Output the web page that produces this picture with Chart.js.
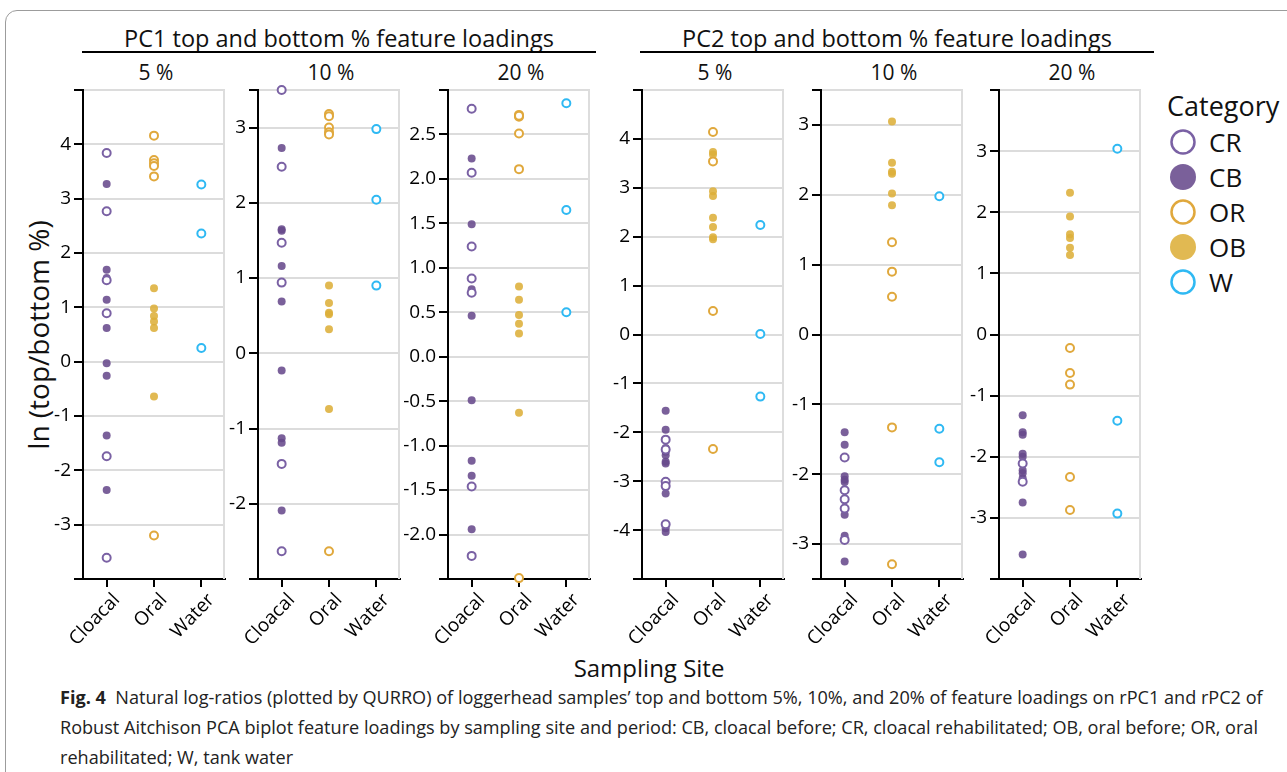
<!DOCTYPE html>
<html>
<head>
<meta charset="utf-8">
<script src="https://cdn.jsdelivr.net/npm/chart.js@4.4.1/dist/chart.umd.min.js"></script>
<style>
  body { margin: 0; width: 1287px; height: 772px; overflow: hidden; background: #fff; font-family: "Open Sans", sans-serif; color: #111; }
  canvas { position: absolute; }
  .frame { position: absolute; left: 5px; top: 10px; width: 1320px; height: 800px; border: 1px solid #9c9c9c; border-top-left-radius: 12px; }
  .head { position: absolute; top: 22px; font-size: 23.5px; font-weight: 500; text-align: center; white-space: nowrap; }
  .rule { position: absolute; top: 51px; height: 2px; background: #000; }
  .sub { position: absolute; top: 58px; font-size: 21px; font-weight: 500; width: 100px; text-align: center; }
  .ytitle { position: absolute; left: 38px; top: 335px; font-size: 28px; white-space: nowrap; transform: translate(-50%, -50%) rotate(-90deg); }
  .xtitle { position: absolute; left: 649px; top: 667px; font-size: 24px; transform: translate(-50%, -50%); white-space: nowrap; }
  .legend { position: absolute; left: 1167px; top: 88px; }
  .legend .t { font-size: 27px; line-height: 36px; }
  .legend .row { display: flex; align-items: center; height: 35px; font-size: 26px; }
  .legend svg { margin-right: 12px; margin-left: 2px; }
  .caption { position: absolute; left: 60px; top: 682px; font-size: 18.1px; line-height: 30px; white-space: nowrap; color: #222; }
</style>
</head>
<body>
<div class="frame"></div>

<div class="head" style="left:82px;width:514px;">PC1 top and bottom % feature loadings</div>
<div class="rule" style="left:82px;width:514px;"></div>
<div class="head" style="left:640px;width:514px;">PC2 top and bottom % feature loadings</div>
<div class="rule" style="left:640px;width:514px;"></div>

<div id="subs"></div>
<div class="ytitle">ln (top/bottom %)</div>
<div class="xtitle">Sampling Site</div>
<div class="legend" id="legend"><div class="t">Category</div></div>

<canvas id="c1"></canvas>
<canvas id="c2"></canvas>
<canvas id="c3"></canvas>
<canvas id="c4"></canvas>
<canvas id="c5"></canvas>
<canvas id="c6"></canvas>

<div class="caption"><b>Fig. 4</b>&nbsp; Natural log-ratios (plotted by QURRO) of loggerhead samples’ top and bottom 5%, 10%, and 20% of feature loadings on rPC1 and rPC2 of<br>Robust Aitchison PCA biplot feature loadings by sampling site and period: CB, cloacal before; CR, cloacal rehabilitated; OB, oral before; OR, oral<br>rehabilitated; W, tank water</div>

<script>
// categories
const sites = ['Cloacal', 'Oral', 'Water'];
const groups = ['CR', 'CB', 'OR', 'OB', 'W'];
const panelTitles = ['5 %', '10 %', '20 %', '5 %', '10 %', '20 %'];

// PC1 5%
const pc1_5_CR = [3.84, 2.77, 1.50, 0.89, -1.74, -3.61];
const pc1_5_CB = [3.27, 1.69, 1.54, 1.14, 0.62, -0.03, -0.26, -1.36, -2.36];
const pc1_5_OR = [4.16, 3.71, 3.65, 3.60, 3.41, -3.20];
const pc1_5_OB = [1.35, 0.98, 0.84, 0.74, 0.62, -0.64];
const pc1_5_W = [3.26, 2.36, 0.25];

// PC1 10%
const pc1_10_CR = [3.50, 2.48, 1.47, 0.94, -1.47, -2.63];
const pc1_10_CB = [2.73, 1.65, 1.63, 1.16, 0.69, -0.23, -1.13, -1.19, -2.09];
const pc1_10_OR = [3.18, 3.15, 3.00, 2.94, 2.91, -2.63];
const pc1_10_OB = [0.90, 0.67, 0.54, 0.52, 0.32, -0.74];
const pc1_10_W = [2.98, 2.04, 0.90];

// PC1 20%
const pc1_20_CR = [2.79, 2.07, 1.24, 0.88, 0.72, -1.46, -2.24];
const pc1_20_CB = [2.23, 1.49, 0.76, 0.46, -0.49, -1.17, -1.34, -1.94];
const pc1_20_OR = [2.72, 2.70, 2.71, 2.51, 2.11, -2.49];
const pc1_20_OB = [0.79, 0.64, 0.47, 0.37, 0.26, -0.63];
const pc1_20_W = [2.85, 1.65, 0.50];

// PC2 5%
const pc2_5_CR = [-2.15, -2.35, -3.01, -3.10, -3.88];
const pc2_5_CB = [-1.56, -1.95, -2.32, -2.40, -2.47, -2.60, -2.64, -3.25, -3.96, -4.04];
const pc2_5_OR = [4.14, 3.54, 0.48, -2.34];
const pc2_5_OB = [3.73, 3.68, 2.93, 2.83, 2.39, 2.20, 1.99, 1.95];
const pc2_5_W = [2.24, 0.01, -1.27];

// PC2 10%
const pc2_10_CR = [-1.76, -2.23, -2.36, -2.49, -2.94];
const pc2_10_CB = [-1.40, -1.58, -2.03, -2.08, -2.11, -2.58, -2.88, -3.25];
const pc2_10_OR = [1.32, 0.90, 0.54, -1.33, -3.29];
const pc2_10_OB = [3.05, 2.46, 2.33, 2.30, 2.02, 1.85];
const pc2_10_W = [1.98, -1.35, -1.83];

// PC2 20%
const pc2_20_CR = [-2.11, -2.41];
const pc2_20_CB = [-1.32, -1.60, -1.64, -1.95, -2.00, -2.22, -2.27, -2.35, -2.75, -3.60];
const pc2_20_OR = [-0.22, -0.63, -0.82, -2.33, -2.87];
const pc2_20_OB = [2.32, 1.93, 1.64, 1.58, 1.42, 1.30];
const pc2_20_W = [3.04, -1.41, -2.93];

// y ranges and tick labels
const pc1_5_range = [-4, 5];
const pc1_5_ticks = [-3, -2, -1, 0, 1, 2, 3, 4];
const pc1_10_range = [-3, 3.5];
const pc1_10_ticks = [-2, -1, 0, 1, 2, 3];
const pc1_20_range = [-2.5, 3];
const pc1_20_ticks = [-2.0, -1.5, -1.0, -0.5, 0.0, 0.5, 1.0, 1.5, 2.0, 2.5];
const pc2_5_range = [-5, 5];
const pc2_5_ticks = [-4, -3, -2, -1, 0, 1, 2, 3, 4];
const pc2_10_range = [-3.5, 3.5];
const pc2_10_ticks = [-3, -2, -1, 0, 1, 2, 3];
const pc2_20_range = [-4, 4];
const pc2_20_ticks = [-3, -2, -1, 0, 1, 2, 3];

const panels = [
  { id: 'c1', series: [pc1_5_CR, pc1_5_CB, pc1_5_OR, pc1_5_OB, pc1_5_W], range: pc1_5_range, ticks: pc1_5_ticks, dec: 0 },
  { id: 'c2', series: [pc1_10_CR, pc1_10_CB, pc1_10_OR, pc1_10_OB, pc1_10_W], range: pc1_10_range, ticks: pc1_10_ticks, dec: 0 },
  { id: 'c3', series: [pc1_20_CR, pc1_20_CB, pc1_20_OR, pc1_20_OB, pc1_20_W], range: pc1_20_range, ticks: pc1_20_ticks, dec: 1 },
  { id: 'c4', series: [pc2_5_CR, pc2_5_CB, pc2_5_OR, pc2_5_OB, pc2_5_W], range: pc2_5_range, ticks: pc2_5_ticks, dec: 0 },
  { id: 'c5', series: [pc2_10_CR, pc2_10_CB, pc2_10_OR, pc2_10_OB, pc2_10_W], range: pc2_10_range, ticks: pc2_10_ticks, dec: 0 },
  { id: 'c6', series: [pc2_20_CR, pc2_20_CB, pc2_20_OR, pc2_20_OB, pc2_20_W], range: pc2_20_range, ticks: pc2_20_ticks, dec: 0 }
];

// layout: where each plot's y axis sits
const axisX = [83, 258, 448, 642, 821, 999];
const plotTop = 90, plotH = 489, plotW = 146, yW = 60, xH = 100, padTop = 10, padRight = 2;

// marker styles per group
const styles = {
  CR: { site: 0, bg: '#fff', border: '#7a61a4', bw: 2, r: 4 },
  CB: { site: 0, bg: 'rgba(104,74,140,0.88)', border: 'rgba(0,0,0,0)', bw: 0, r: 4 },
  OR: { site: 1, bg: '#fff', border: '#e0a83c', bw: 2, r: 4 },
  OB: { site: 1, bg: 'rgba(221,175,58,0.88)', border: 'rgba(0,0,0,0)', bw: 0, r: 4 },
  W: { site: 2, bg: '#fff', border: '#2fb9f3', bw: 2, r: 4 }
};

const yFont = { family: 'Open Sans', size: 19 };
const xFont = { family: 'Open Sans', size: 19 };

// light grey right edge of each plot frame
const framePlugin = {
  id: 'frame',
  beforeDatasetsDraw(chart) {
    const a = chart.chartArea, ctx = chart.ctx;
    ctx.save();
    ctx.strokeStyle = '#dddddd';
    ctx.lineWidth = 2;
    ctx.beginPath();
    ctx.moveTo(a.right - 1, a.top);
    ctx.lineTo(a.right - 1, a.bottom);
    ctx.stroke();
    ctx.restore();
  }
};

panels.forEach((p, i) => {
  const canvas = document.getElementById(p.id);
  canvas.width = yW + plotW + padRight;
  canvas.height = padTop + plotH + xH;
  canvas.style.left = (axisX[i] - yW) + 'px';
  canvas.style.top = (plotTop - padTop) + 'px';

  const datasets = groups.map((g, k) => {
    const s = styles[g];
    return {
      label: g,
      data: p.series[k].map(v => ({ x: sites[s.site], y: v })),
      backgroundColor: s.bg,
      borderColor: s.border,
      borderWidth: s.bw,
      pointRadius: s.r,
      clip: false
    };
  });

  const tickVals = [p.range[0], ...p.ticks, p.range[1]];

  new Chart(canvas, {
    type: 'scatter',
    data: { datasets },
    plugins: [framePlugin],
    options: {
      responsive: false,
      animation: false,
      layout: { padding: { top: padTop, right: padRight, left: 0, bottom: 0 } },
      plugins: { legend: { display: false }, tooltip: { enabled: false } },
      scales: {
        x: {
          type: 'category',
          labels: sites,
          offset: true,
          grid: { drawOnChartArea: false, offset: false, tickLength: 8, tickColor: '#000', lineWidth: 2 },
          border: { color: '#000', width: 2 },
          ticks: { color: '#000', font: xFont, minRotation: 46, maxRotation: 46, padding: 2, labelOffset: 10, autoSkip: false },
          afterFit: s => { s.height = xH; s.paddingLeft = 0; s.paddingRight = 0; }
        },
        y: {
          min: p.range[0],
          max: p.range[1],
          afterBuildTicks: s => { s.ticks = tickVals.map(v => ({ value: v })); },
          grid: { color: '#dcdcdc', lineWidth: 2, tickColor: '#000', tickLength: 9 },
          border: { color: '#000', width: 2 },
          ticks: {
            color: '#000',
            font: yFont,
            padding: 3,
            callback: v => p.ticks.includes(v) ? v.toFixed(p.dec) : ''
          },
          afterFit: s => { s.width = yW; s.paddingTop = 0; s.paddingBottom = 0; }
        }
      }
    }
  });

  const sub = document.createElement('div');
  sub.className = 'sub';
  sub.textContent = panelTitles[i];
  sub.style.left = (axisX[i] + plotW / 2 - 50) + 'px';
  document.getElementById('subs').appendChild(sub);
});

// legend
const legend = document.getElementById('legend');
groups.forEach(g => {
  const s = styles[g];
  const open = s.bw > 0;
  const row = document.createElement('div');
  row.className = 'row';
  row.innerHTML = '<svg width="28" height="28"><circle cx="14" cy="14" r="' + (open ? 11.5 : 13) + '" fill="' +
    (open ? '#fff' : s.bg) + '" stroke="' + (open ? s.border : 'none') + '" stroke-width="2.5"/></svg><span>' + g + '</span>';
  legend.appendChild(row);
});
</script>
</body>
</html>
